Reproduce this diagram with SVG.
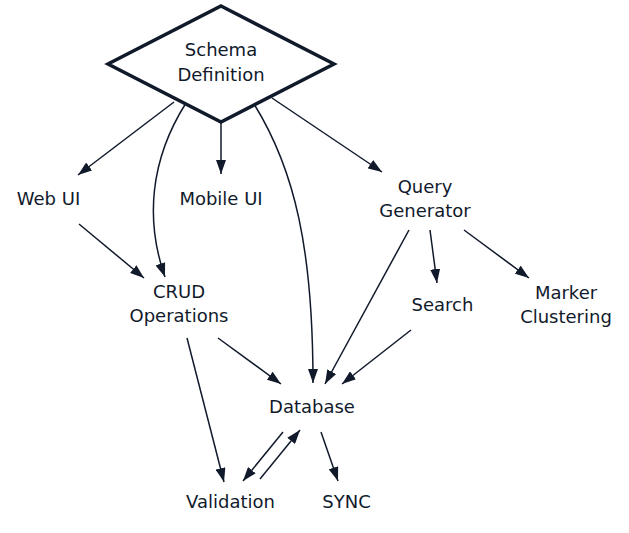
<svg xmlns="http://www.w3.org/2000/svg" width="629" height="533" viewBox="0 0 629 533">
<style>
text{font-family:"DejaVu Sans",Verdana,sans-serif;font-size:18px;fill:#111a2b;text-anchor:middle}
.e{fill:none;stroke:#111a2b;stroke-width:1.5;marker-end:url(#a)}
</style>
<defs>
<marker id="a" viewBox="0 0 14 10" markerWidth="14" markerHeight="10" refX="14" refY="5" orient="auto" markerUnits="userSpaceOnUse">
<path d="M0,0 L14,5 L0,10 z" fill="#111a2b"/>
</marker>
</defs>
<rect width="629" height="533" fill="#fff"/>
<g id="edges">
<path class="e" d="M174,102 L78,175"/>
<path class="e" d="M186,103 C150,160 145,220 165,277"/>
<path class="e" d="M221,122 L221,174"/>
<path class="e" d="M254,104 C295,170 313,250 313,383"/>
<path class="e" d="M272,98 L382,172"/>
<path class="e" d="M79,224 L144,278"/>
<path class="e" d="M409,230 L325,384"/>
<path class="e" d="M430,230 L437,283"/>
<path class="e" d="M464,230 L529,278"/>
<path class="e" d="M411,330 L342,384"/>
<path class="e" d="M218,338 L281,384"/>
<path class="e" d="M187,338 L224,482"/>
<path class="e" d="M283,432 L243,481"/>
<path class="e" d="M260,479 L300,430"/>
<path class="e" d="M321,432 L338,481"/>
</g>
<g id="schema">
<polygon points="221,6 334,64 221,122 108,64" fill="#fff" stroke="#111a2b" stroke-width="3.5" stroke-linejoin="miter"/>
<text x="221" y="56">Schema</text>
<text x="221" y="81">Definition</text>
</g>
<g id="webui"><text x="48.5" y="205">Web UI</text></g>
<g id="mobileui"><text x="221" y="205">Mobile UI</text></g>
<g id="query"><text x="425" y="193">Query</text><text x="425" y="217">Generator</text></g>
<g id="crud"><text x="179" y="298">CRUD</text><text x="179" y="322">Operations</text></g>
<g id="search"><text x="442.5" y="311">Search</text></g>
<g id="marker"><text x="566" y="299">Marker</text><text x="566" y="323">Clustering</text></g>
<g id="database"><text x="312" y="413">Database</text></g>
<g id="validation"><text x="230.5" y="508">Validation</text></g>
<g id="sync"><text x="346.5" y="508">SYNC</text></g>
</svg>
